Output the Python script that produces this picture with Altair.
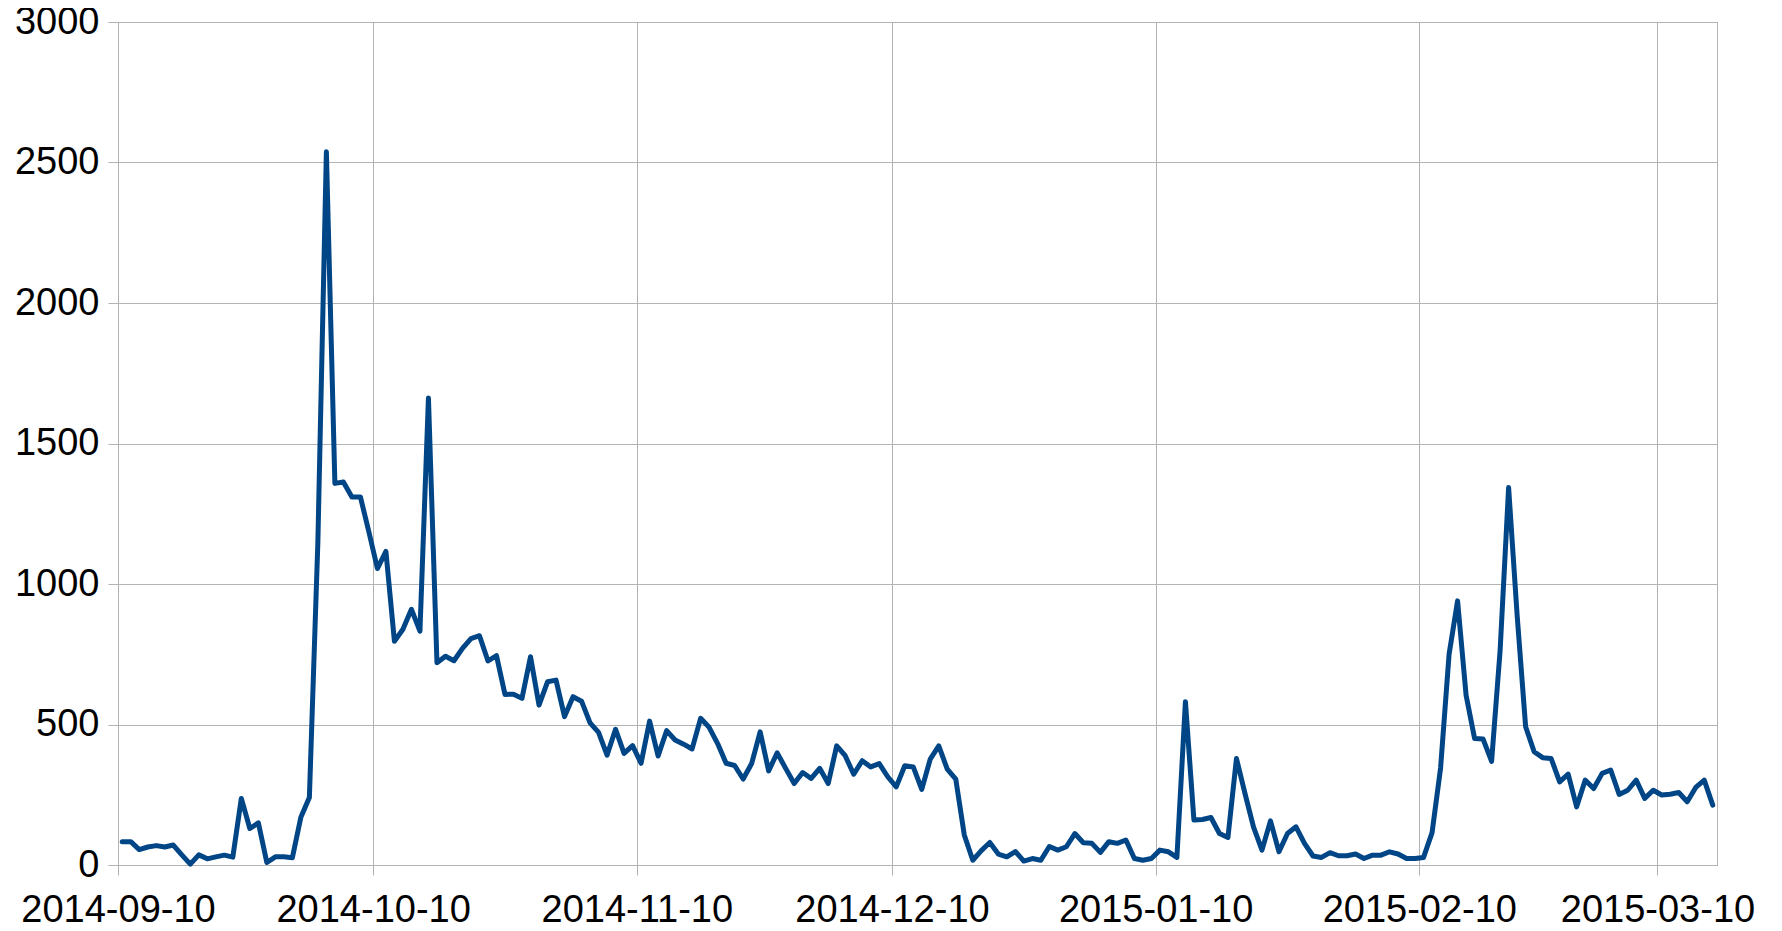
import altair as alt
import pandas as pd

# Daily values, starting 2014-09-10
values = [
    83, 83, 55, 64, 69, 64, 71, 36, 3, 36,
    22, 29, 35, 28, 237, 130, 150, 9, 29, 29,
    26, 170, 240, 1150, 2538, 1358, 1363, 1310, 1310, 1185,
    1055, 1116, 796, 839, 910, 832, 1662, 720, 743, 727,
    771, 806, 816, 726, 745, 607, 608, 593, 741, 569,
    652, 658, 528, 599, 583, 506, 472, 391, 483, 397,
    425, 362, 512, 388, 478, 445, 430, 413, 522, 490,
    432, 362, 354, 306, 361, 474, 335, 399, 344, 290,
    329, 308, 344, 290, 424, 389, 323, 371, 349, 361,
    314, 278, 353, 349, 269, 377, 424, 341, 306, 107,
    17, 51, 80, 39, 29, 48, 14, 23, 17, 66,
    53, 65, 112, 79, 77, 45, 83, 77, 89, 23,
    17, 23, 53, 47, 27, 581, 160, 162, 169, 112,
    98, 379, 255, 136, 53, 157, 47, 112, 136, 77,
    32, 27, 44, 33, 33, 39, 23, 35, 35, 47,
    39, 23, 23, 27, 115, 345, 750, 940, 604, 450,
    448, 369, 764, 1343, 889, 492, 403, 382, 379, 296,
    323, 207, 302, 272, 326, 338, 251, 266, 302, 237,
    266, 249, 252, 258, 225, 276, 302, 213,
]

start_date = "2014-09-10 12:00"
tick_dates = ["2014-09-10", "2014-10-10", "2014-11-10", "2014-12-10",
              "2015-01-10", "2015-02-10", "2015-03-10"]
y_ticks = [0, 500, 1000, 1500, 2000, 2500, 3000]

dates = pd.date_range(start_date, periods=len(values), freq="D")
df = pd.DataFrame({
    "date": [d.strftime("%Y-%m-%dT%H:%M:%SZ") for d in dates],
    "value": values,
})


def dt(s):
    y, m, d = (int(p) for p in s.split("-"))
    return alt.DateTime(year=y, month=m, date=d, utc=True)


grid = "#b3b3b3"
font = "Liberation Sans"

chart = alt.Chart(df).mark_line(
    color="#004586", strokeWidth=5, strokeJoin="round", strokeCap="round"
).encode(
    x=alt.X(
        "date:T",
        scale=alt.Scale(type="utc", domain=[dt("2014-09-10"), dt("2015-03-17")], nice=False),
        axis=alt.Axis(
            title=None,
            values=[dt(s) for s in tick_dates],
            labelExpr="utcFormat(datum.value, '%Y-%m-%d')",
            labelFont=font, labelFontSize=38, labelColor="#000000",
            labelPadding=16, labelOverlap=False, labelFlush=False, labelLimit=0,
            tickColor=grid, tickSize=10, tickWidth=1,
            domainColor=grid, domainWidth=1,
            gridColor=grid, gridWidth=1, grid=True,
        ),
    ),
    y=alt.Y(
        "value:Q",
        scale=alt.Scale(domain=[0, 3000], nice=False),
        axis=alt.Axis(
            title=None,
            values=y_ticks,
            format="d",
            labelFont=font, labelFontSize=38, labelColor="#000000",
            labelPadding=9, labelFlush=False, labelLimit=0,
            tickColor=grid, tickSize=10, tickWidth=1,
            domainColor=grid, domainWidth=1,
            gridColor=grid, gridWidth=1, grid=True,
        ),
    ),
).properties(
    width=1599,
    height=843,
    autosize=alt.AutoSizeParams(type="none"),
    padding={"left": 110, "top": 14, "right": 40, "bottom": 66},
    background="white",
).configure_view(
    stroke=grid, strokeWidth=1
)

chart.save("out.html", embed_options={"renderer": "svg", "actions": False})
